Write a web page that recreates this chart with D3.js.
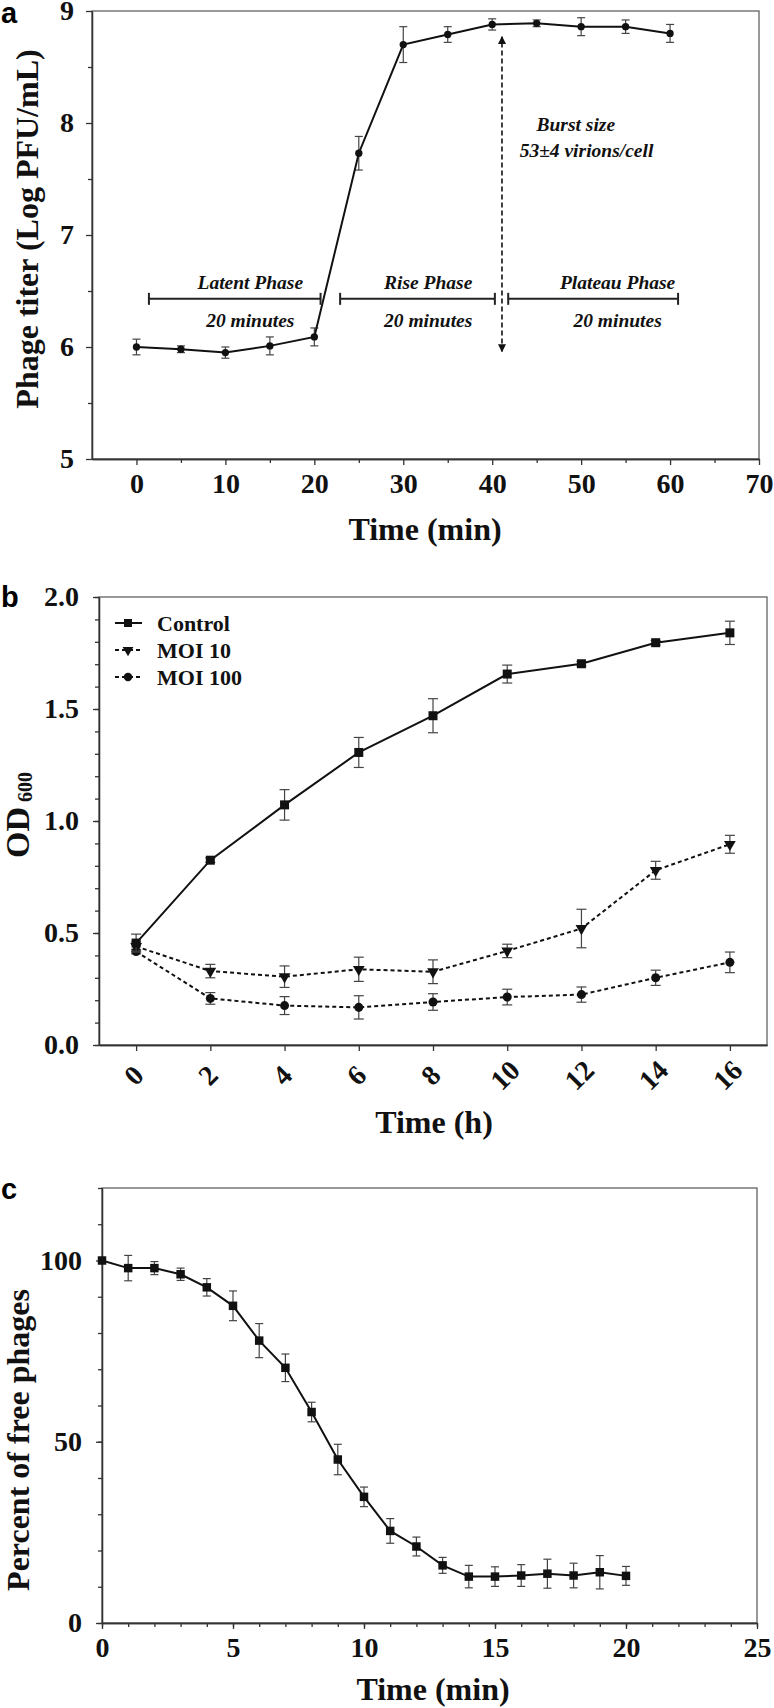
<!DOCTYPE html>
<html>
<head>
<meta charset="utf-8">
<style>
 body { margin: 0; background: #fff; }
 svg { font-family: "Liberation Serif", "Times New Roman", serif; background: #fff; }
 .frame { fill: none; stroke: #555; stroke-width: 1.2px; }
 .axis path, .axis line { stroke: #333; stroke-width: 1.3px; }
 .axis text { font-family: "Liberation Serif", serif; font-size: 28px; font-weight: bold; fill: #111; }
 .err { stroke: #444; stroke-width: 1.2px; fill: none; }
 .title { font-size: 32px; font-weight: bold; fill: #111; }
 .panel { font-family: "Liberation Sans", Arial, sans-serif; font-weight: bold; font-size: 29px; fill: #000; }
 .note { font-size: 19.5px; font-weight: bold; font-style: italic; fill: #111; }
 .legend { font-size: 22px; font-weight: bold; fill: #111; }
</style>
</head>
<body>
<svg width="774" height="1708"></svg>
<script src="https://cdn.jsdelivr.net/npm/d3@7"></script>
<script>
// ---------- panel a : one-step growth curve
var timeA = [0, 5, 10, 15, 20, 25, 30, 35, 40, 45, 50, 55, 60];
var titerA = [6.00, 5.98, 5.95, 6.01, 6.09, 7.73, 8.70, 8.79, 8.88, 8.89, 8.86, 8.86, 8.80];
var titerErrA = [0.07, 0.03, 0.05, 0.08, 0.08, 0.15, 0.16, 0.07, 0.05, 0.03, 0.08, 0.06, 0.08];
var xTicksA = [0, 10, 20, 30, 40, 50, 60, 70];
var xMinorA = [5, 15, 25, 35, 45, 55, 65];
var yTicksA = [5, 6, 7, 8, 9];
var yMinorA = [5.5, 6.5, 7.5, 8.5];
var phaseNames = ["Latent Phase", "Rise Phase", "Plateau Phase"];
var phaseStart = [1.4, 22.9, 41.8];
var phaseEnd = [20.7, 40.3, 60.9];
var phaseLabelX = [12.8, 32.8, 54.1];
var phaseLevel = 6.43;
var phaseLength = "20 minutes";
var burstX = 41.1;
var burstRange = [5.96, 8.77];
var burstText = ["Burst size", "53\u00b14 virions/cell"];
var burstTextX = [49.4, 50.6];
var burstTextY = [7.99, 7.76];

// ---------- panel b : bacterial growth (OD600)
var timeB = [0, 2, 4, 6, 8, 10, 12, 14, 16];
var seriesNames = ["Control", "MOI 10", "MOI 100"];
var controlOD = [0.455, 0.825, 1.072, 1.306, 1.470, 1.656, 1.702, 1.796, 1.840];
var controlErr = [0.04, 0.01, 0.068, 0.067, 0.076, 0.04, 0.01, 0.01, 0.052];
var moi10OD = [0.44, 0.33, 0.305, 0.338, 0.327, 0.42, 0.52, 0.78, 0.896];
var moi10Err = [0.02, 0.03, 0.048, 0.054, 0.053, 0.03, 0.086, 0.04, 0.04];
var moi100OD = [0.417, 0.208, 0.176, 0.168, 0.192, 0.214, 0.225, 0.300, 0.369];
var moi100Err = [0.01, 0.026, 0.04, 0.052, 0.037, 0.035, 0.034, 0.034, 0.046];
var yTicksB = [0, 0.5, 1.0, 1.5, 2.0];
var yMinorB = d3.range(0, 2.01, 0.1);

// ---------- panel c : adsorption
var timeC = [0, 1, 2, 3, 4, 5, 6, 7, 8, 9, 10, 11, 12, 13, 14, 15, 16, 17, 18, 19, 20];
var freePhage = [100, 97.9, 97.9, 96.2, 92.6, 87.5, 77.9, 70.4, 58.2, 45.1, 34.8, 25.4, 21.1, 15.9, 12.8, 12.8, 13.1, 13.6, 13.1, 14.0, 13.0];
var freePhageErr = [0, 3.5, 1.8, 1.7, 2.4, 4.1, 4.7, 3.8, 2.7, 4.2, 2.7, 3.4, 2.6, 2.2, 3.1, 2.7, 3.0, 4.0, 3.4, 4.6, 2.6];
var xTicksC = [0, 5, 10, 15, 20, 25];
var xMinorC = d3.range(0, 26, 1);
var yTicksC = [0, 50, 100];
var yMinorC = d3.range(0, 121, 10);

var svg = d3.select("svg");

function makePanel(box, xDom, yDom) {
    var g = svg.append("g");
    var x = d3.scaleLinear().domain(xDom).range([box.left, box.right]);
    var y = d3.scaleLinear().domain(yDom).range([box.bottom, box.top]);
    g.append("rect").attr("class", "frame")
        .attr("x", box.left).attr("y", box.top)
        .attr("width", box.right - box.left).attr("height", box.bottom - box.top);
    return {g: g, x: x, y: y, box: box};
}

function addAxes(p, o) {
    var b = p.box;
    p.g.append("g").attr("class", "axis")
        .attr("transform", "translate(0," + b.bottom + ")")
        .call(d3.axisBottom(p.x).tickValues(o.xMinor).tickSize(4).tickSizeOuter(0).tickFormat(""));
    var xa = p.g.append("g").attr("class", "axis")
        .attr("transform", "translate(0," + b.bottom + ")")
        .call(d3.axisBottom(p.x).tickValues(o.xTicks).tickSize(6).tickSizeOuter(0).tickPadding(o.xPad).tickFormat(o.xFmt));
    p.g.append("g").attr("class", "axis")
        .attr("transform", "translate(" + b.left + ",0)")
        .call(d3.axisLeft(p.y).tickValues(o.yMinor).tickSize(4).tickSizeOuter(0).tickFormat(""));
    p.g.append("g").attr("class", "axis")
        .attr("transform", "translate(" + b.left + ",0)")
        .call(d3.axisLeft(p.y).tickValues(o.yTicks).tickSize(6).tickSizeOuter(0).tickPadding(o.yPad).tickFormat(o.yFmt));
    return xa;
}

function drawSeries(p, xs, ys, es, o) {
    var pts = xs.map(function(d, i) { return {x: d, y: ys[i], e: es[i]}; });
    var eg = p.g.append("g").attr("class", "err");
    pts.forEach(function(d) {
        if (!d.e) return;
        var cx = p.x(d.x), y1 = p.y(d.y + d.e), y2 = p.y(d.y - d.e);
        eg.append("line").attr("x1", cx).attr("x2", cx).attr("y1", y1).attr("y2", y2);
        eg.append("line").attr("x1", cx - o.cap).attr("x2", cx + o.cap).attr("y1", y1).attr("y2", y1);
        eg.append("line").attr("x1", cx - o.cap).attr("x2", cx + o.cap).attr("y1", y2).attr("y2", y2);
    });
    var line = d3.line().x(function(d) { return p.x(d.x); }).y(function(d) { return p.y(d.y); });
    p.g.append("path").datum(pts)
        .attr("d", line)
        .attr("fill", "none").attr("stroke", "#111").attr("stroke-width", 2)
        .attr("stroke-dasharray", o.dash || null);
    p.g.selectAll(null).data(pts).enter().append("path")
        .attr("d", d3.symbol().type(o.symbol).size(o.size))
        .attr("transform", function(d) {
            return "translate(" + p.x(d.x) + "," + p.y(d.y) + ")" + (o.flip ? " rotate(180)" : "");
        })
        .attr("fill", "#111");
}

function yTitle(x, y, txt) {
    return svg.append("text").attr("class", "title")
        .attr("text-anchor", "middle")
        .attr("transform", "translate(" + x + "," + y + ") rotate(-90)")
        .text(txt);
}

// ================= panel a
var pa = makePanel({left: 92, right: 759, top: 11, bottom: 459}, [-5, 70], [5, 9]);
addAxes(pa, {xTicks: xTicksA, xMinor: xMinorA, yTicks: yTicksA, yMinor: yMinorA,
    xPad: 8, yPad: 12, xFmt: d3.format("d"), yFmt: d3.format("d")});
drawSeries(pa, timeA, titerA, titerErrA, {symbol: d3.symbolCircle, size: 42, cap: 4});

// phase brackets
phaseNames.forEach(function(name, i) {
    var x1 = pa.x(phaseStart[i]), x2 = pa.x(phaseEnd[i]), yy = pa.y(phaseLevel);
    var bg = pa.g.append("g").attr("stroke", "#222").attr("stroke-width", 2);
    bg.append("line").attr("x1", x1).attr("x2", x2).attr("y1", yy).attr("y2", yy);
    bg.append("line").attr("x1", x1).attr("x2", x1).attr("y1", yy - 6).attr("y2", yy + 6);
    bg.append("line").attr("x1", x2).attr("x2", x2).attr("y1", yy - 6).attr("y2", yy + 6);
    pa.g.append("text").attr("class", "note").attr("text-anchor", "middle")
        .attr("x", pa.x(phaseLabelX[i])).attr("y", yy - 10).text(name);
    pa.g.append("text").attr("class", "note").attr("text-anchor", "middle")
        .attr("x", pa.x(phaseLabelX[i])).attr("y", yy + 28).text(phaseLength);
});

// burst size arrow
svg.append("defs").append("marker").attr("id", "arr")
    .attr("viewBox", "0 0 10 10").attr("refX", 9).attr("refY", 5)
    .attr("markerWidth", 5).attr("markerHeight", 6).attr("orient", "auto-start-reverse")
    .append("path").attr("d", "M0,0L10,5L0,10Z").attr("fill", "#111");
pa.g.append("line")
    .attr("x1", pa.x(burstX)).attr("x2", pa.x(burstX))
    .attr("y1", pa.y(burstRange[0])).attr("y2", pa.y(burstRange[1]))
    .attr("stroke", "#111").attr("stroke-width", 1.6).attr("stroke-dasharray", "5,3")
    .attr("marker-start", "url(#arr)").attr("marker-end", "url(#arr)");
burstText.forEach(function(t, i) {
    pa.g.append("text").attr("class", "note").attr("text-anchor", "middle")
        .attr("x", pa.x(burstTextX[i])).attr("y", pa.y(burstTextY[i])).attr("dy", "0.35em").text(t);
});

yTitle(38, 229, "Phage titer (Log PFU/mL)");
svg.append("text").attr("class", "title").attr("text-anchor", "middle")
    .attr("x", 425).attr("y", 540).text("Time (min)");
svg.append("text").attr("class", "panel").attr("x", 1).attr("y", 23).text("a");

// ================= panel b
var pb = makePanel({left: 99, right: 767, top: 597, bottom: 1045}, [-1, 17], [0, 2]);
var xaB = addAxes(pb, {xTicks: timeB, xMinor: [], yTicks: yTicksB, yMinor: yMinorB,
    xPad: 8, yPad: 14, xFmt: d3.format("d"), yFmt: d3.format(".1f")});
xaB.selectAll(".tick text")
    .attr("y", 0).attr("dy", "0.35em")
    .attr("text-anchor", "middle")
    .attr("transform", "translate(-3,30) rotate(-45)");

drawSeries(pb, timeB, moi100OD, moi100Err, {symbol: d3.symbolCircle, size: 64, cap: 5, dash: "4,3"});
drawSeries(pb, timeB, moi10OD, moi10Err, {symbol: d3.symbolTriangle, size: 60, cap: 5, dash: "4,3", flip: true});
drawSeries(pb, timeB, controlOD, controlErr, {symbol: d3.symbolSquare, size: 81, cap: 5});

var legendSym = [d3.symbolSquare, d3.symbolTriangle, d3.symbolCircle];
var legendSize = [64, 50, 56];
var legendDash = [null, "4,3", "4,3"];
seriesNames.forEach(function(name, i) {
    var ly = 623 + i * 27;
    pb.g.append("line").attr("x1", 115).attr("x2", 142).attr("y1", ly).attr("y2", ly)
        .attr("stroke", "#111").attr("stroke-width", 2).attr("stroke-dasharray", legendDash[i]);
    pb.g.append("path").attr("d", d3.symbol().type(legendSym[i]).size(legendSize[i]))
        .attr("transform", "translate(128," + ly + ")" + (i === 1 ? " rotate(180)" : ""))
        .attr("fill", "#111");
    pb.g.append("text").attr("class", "legend").attr("x", 157).attr("y", ly).attr("dy", "0.35em").text(name);
});

var od = svg.append("text").attr("class", "title").attr("text-anchor", "middle")
    .attr("transform", "translate(29,815) rotate(-90)");
od.append("tspan").style("font-size", "34px").text("OD");
od.append("tspan").style("font-size", "20px").attr("dy", 3).text(" 600");
svg.append("text").attr("class", "title").attr("text-anchor", "middle")
    .attr("x", 434).attr("y", 1133).text("Time (h)");
svg.append("text").attr("class", "panel").attr("x", 1).attr("y", 607).text("b");

// ================= panel c
var pc = makePanel({left: 102, right: 757, top: 1188, bottom: 1623}, [0, 25], [0, 120]);
addAxes(pc, {xTicks: xTicksC, xMinor: xMinorC, yTicks: yTicksC, yMinor: yMinorC,
    xPad: 8, yPad: 14, xFmt: d3.format("d"), yFmt: d3.format("d")});
drawSeries(pc, timeC, freePhage, freePhageErr, {symbol: d3.symbolSquare, size: 72, cap: 4});

yTitle(29, 1440, "Percent of free phages");
svg.append("text").attr("class", "title").attr("text-anchor", "middle")
    .attr("x", 433).attr("y", 1700).text("Time (min)");
svg.append("text").attr("class", "panel").attr("x", 1).attr("y", 1199).text("c");
</script>
</body>
</html>
